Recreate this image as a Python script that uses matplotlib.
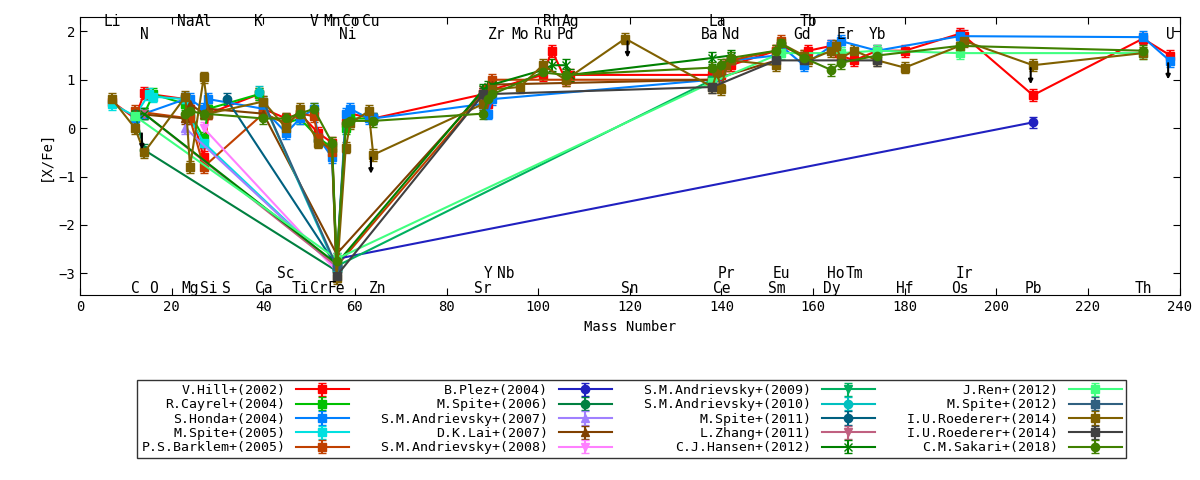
import numpy as np
import matplotlib.pyplot as plt

plt.rcParams['font.family'] = ['DejaVu Sans Mono']
plt.rcParams['font.size'] = 10

# ── element labels (mass number, symbol, row) ─────────────────────────────────
top1 = [(7, "Li"), (23, "Na"), (27, "Al"), (39, "K"), (51, "V"), (55, "Mn"), (59, "Co"),
        (63.5, "Cu"), (103, "Rh"), (107, "Ag"), (139, "La"), (159, "Tb")]
top2 = [(14, "N"), (58.5, "Ni"), (91, "Zr"), (96, "Mo"), (101, "Ru"), (106, "Pd"), (137.5, "Ba"),
        (142, "Nd"), (157.5, "Gd"), (167, "Er"), (174, "Yb"), (238, "U")]
bot1 = [(45, "Sc"), (89, "Y"), (93, "Nb"), (141, "Pr"), (153, "Eu"), (165, "Ho"), (169, "Tm"), (193, "Ir")]
bot2 = [(12, "C"), (16, "O"), (24, "Mg"), (28, "Si"), (32, "S"), (40, "Ca"), (48, "Ti"), (52, "Cr"),
        (56, "Fe"), (65, "Zn"), (88, "Sr"), (120, "Sn"), (140, "Ce"), (152, "Sm"), (164, "Dy"),
        (180, "Hf"), (192, "Os"), (208, "Pb"), (232, "Th")]

# ── series ────────────────────────────────────────────────────────────────────
names = ["V.Hill+(2002)", "R.Cayrel+(2004)", "S.Honda+(2004)", "M.Spite+(2005)", "P.S.Barklem+(2005)",
         "B.Plez+(2004)", "M.Spite+(2006)", "S.M.Andrievsky+(2007)", "D.K.Lai+(2007)", "S.M.Andrievsky+(2008)",
         "S.M.Andrievsky+(2009)", "S.M.Andrievsky+(2010)", "M.Spite+(2011)", "L.Zhang+(2011)", "C.J.Hansen+(2012)",
         "J.Ren+(2012)", "M.Spite+(2012)", "I.U.Roederer+(2014)", "I.U.Roederer+(2014)", "C.M.Sakari+(2018)"]
colors = ["#ff0000", "#00c000", "#0080ff", "#00e0e0", "#c04000", "#2020c0", "#008040", "#a080ff",
          "#804000", "#ff80ff", "#00b060", "#00c0c0", "#006080", "#c06080", "#008000", "#40ff80",
          "#306080", "#806000", "#404040", "#408000"]
markers = ["s", "s", "s", "s", "s", "o", "o", "^", "^", "v", "v", "o", "o", "v", "x", "s", "s", "s", "s", "o"]

mass = [
    [7, 12, 14, 23, 24, 27, 28, 39, 40, 45, 48, 52, 55, 56, 58, 59, 64, 88, 89, 90, 101, 103, 106, 107, 138, 139,
     140, 141, 142, 152, 153, 158, 159, 164, 165, 166, 169, 174, 180, 192, 193, 208, 232, 238],
    [12, 14, 16, 23, 24, 27, 28, 39, 40, 45, 48, 52, 55, 56, 58, 59, 64],
    [12, 14, 23, 24, 27, 28, 40, 45, 48, 51, 52, 55, 56, 58, 59, 63, 64, 88, 89, 90, 138, 139, 140, 142, 152, 153,
     158, 164, 166, 174, 192, 232, 238],
    [7, 12, 15, 16, 23, 24, 27, 56],
    [12, 24, 27, 40, 45, 48, 51, 52, 55, 56, 88, 89, 90, 138, 140, 142, 152, 153],
    [56, 208],
    [12, 14, 56],
    [23, 56],
    [12, 23, 24, 27, 28, 40, 56, 88, 89, 90, 138, 152],
    [27, 56],
    [56, 138],
    [39, 56],
    [32, 56],
    [14, 56],
    [12, 14, 56, 88, 89, 90, 101, 103, 106, 107, 138, 142],
    [12, 56, 138, 153, 166, 174, 192, 232],
    [40, 56],
    [7, 12, 14, 23, 24, 27, 28, 40, 45, 48, 52, 55, 56, 58, 59, 63, 64, 88, 89, 90, 96, 101, 106, 119, 138, 139,
     140, 141, 142, 152, 153, 158, 159, 164, 165, 166, 169, 174, 180, 192, 193, 208, 232],
    [56, 88, 138, 152, 158, 174],
    [23, 24, 27, 40, 45, 48, 51, 55, 56, 58, 59, 64, 88, 89, 90, 101, 106, 138, 140, 142, 152, 153, 158, 164, 166,
     174, 192, 232],
]
xfe = [
    [0.55, 0.2, 0.72, 0.6, 0.4, -0.6, 0.3, 0.7, 0.4, 0.2, 0.3, -0.1, -0.3, -2.9, 0.1, 0.3, 0.2, 0.7, 0.5, 0.8, 1.1,
     1.6, 1.0, 1.1, 1.1, 1.1, 1.1, 1.3, 1.3, 1.6, 1.7, 1.5, 1.6, 1.7, 1.6, 1.5, 1.4, 1.6, 1.6, 1.95, 1.9, 0.68,
     1.85, 1.5],
    [0.25, 0.3, 0.7, 0.5, 0.3, -0.2, 0.4, 0.7, 0.3, 0.1, 0.2, -0.2, -0.4, -2.8, 0.0, 0.2, 0.2],
    [0.2, 0.3, 0.6, 0.6, 0.4, 0.6, 0.4, -0.1, 0.2, 0.4, -0.2, -0.6, -2.85, 0.3, 0.4, 0.2, 0.2, 0.5, 0.3, 0.6, 1.0,
     1.1, 1.2, 1.4, 1.5, 1.7, 1.3, 1.7, 1.8, 1.6, 1.9, 1.88, 1.38],
    [0.5, 0.25, 0.7, 0.65, 0.6, 0.2, -0.3, -2.9],
    [0.35, 0.2, -0.8, 0.3, 0.1, 0.3, 0.25, -0.2, -0.5, -2.85, 0.7, 0.8, 1.0, 1.0, 1.2, 1.4, 1.6, 1.8],
    [-2.7, 0.12],
    [0.3, -0.45, -2.95],
    [0.0, -2.9],
    [0.3, 0.2, 0.5, 0.3, 0.4, 0.3, -2.6, 0.75, 0.8, 0.9, 1.0, 1.4],
    [0.0, -2.95],
    [-2.85, 1.0],
    [0.75, -2.9],
    [0.6, -2.85],
    [0.3, -2.85],
    [0.3, 0.3, -2.8, 0.8, 0.85, 0.9, 1.2, 1.3, 1.3, 1.1, 1.45, 1.5],
    [0.25, -2.7, 0.95, 1.55, 1.55, 1.6, 1.55, 1.55],
    [0.55, -2.85],
    [0.6, 0.0, -0.5, 0.65, -0.8, 1.05, 0.3, 0.55, 0.0, 0.4, -0.3, -0.4, -3.1, -0.4, 0.1, 0.35, -0.55, 0.5, 0.7,
     0.8, 0.85, 1.3, 1.0, 1.85, 0.85, 1.15, 0.8, 1.3, 1.4, 1.3, 1.75, 1.5, 1.4, 1.6, 1.7, 1.45, 1.6, 1.4, 1.25,
     1.7, 1.8, 1.3, 1.55],
    [-3.05, 0.7, 0.85, 1.4, 1.4, 1.4],
    [0.3, 0.35, 0.3, 0.2, 0.2, 0.3, 0.4, -0.3, -2.75, 0.1, 0.15, 0.15, 0.3, 0.6, 0.7, 1.15, 1.1, 1.25, 1.3, 1.45,
     1.6, 1.75, 1.45, 1.2, 1.35, 1.5, 1.7, 1.6],
]
err = 0.12

# upper limits (mass number, value)
lim_mass = [13.5, 63.5, 119.5, 207.5, 237.5]
lim_val = [-0.05, -0.55, 1.85, 1.3, 1.4]

fig = plt.figure(figsize=(12, 4.8), dpi=100)
ax = fig.add_axes([0.0667, 0.385, 0.9163, 0.58])

for m, v, n, c, mk in zip(mass, xfe, names, colors, markers):
    ax.errorbar(m, v, yerr=err, color=c, marker=mk, ms=6, lw=1.5, capsize=3, elinewidth=1.5, label=n)

for m, v in zip(lim_mass, lim_val):
    ax.annotate("", xy=(m, v - 0.45), xytext=(m, v),
                arrowprops=dict(arrowstyle="-|>", color="black", lw=1.5, mutation_scale=6))

for lst, y in [(top1, 2.2), (top2, 1.93), (bot1, -3.0), (bot2, -3.32)]:
    for m, s in lst:
        ax.text(m, y, s, ha="center", va="center", fontsize=10.5)

ax.set_xlim(0, 240)
ax.set_ylim(-3.45, 2.3)
ax.set_xticks(range(0, 241, 20))
ax.set_yticks(range(-3, 3))
ax.tick_params(direction="in", top=True, right=True, length=5)
ax.set_xlabel("Mass Number")
ax.set_ylabel("[X/Fe]")

h, l = ax.get_legend_handles_labels()
fig.legend(h, l, ncol=4, loc="upper left", bbox_to_anchor=(0.109, 0.222), markerfirst=False,
           fancybox=False, edgecolor="black", fontsize=9.5, handlelength=4,
           borderpad=0.3, labelspacing=0.1, columnspacing=2.4)

fig.savefig("out.png", dpi=100)
